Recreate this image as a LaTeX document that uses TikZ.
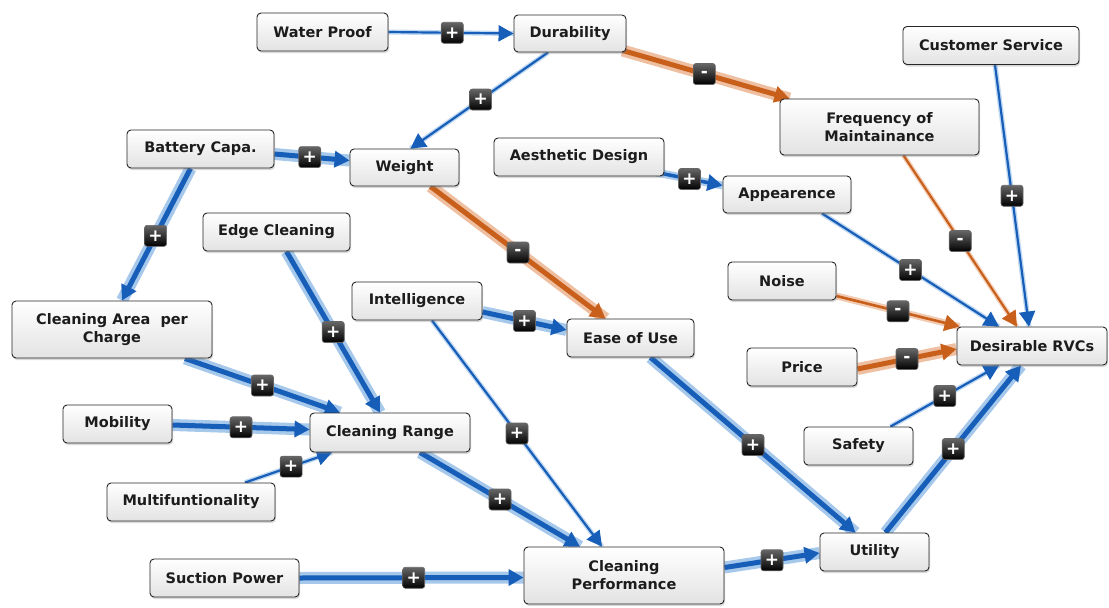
\documentclass[tikz,border=0pt]{standalone}
\usepackage{fontspec}
\setmainfont{DejaVu Sans}
\usetikzlibrary{arrows.meta,shadows,calc,backgrounds}
\definecolor{eblue}{RGB}{22,94,184}
\definecolor{hblue}{RGB}{150,190,232}
\definecolor{eor}{RGB}{200,96,28}
\definecolor{hor}{RGB}{236,180,145}
\definecolor{txt}{RGB}{28,28,28}
\tikzset{
  box/.style={draw=black!85, line width=0.9pt, rounded corners=4pt,
    top color=white, bottom color=black!11,
    drop shadow={shadow xshift=1pt, shadow yshift=-2pt, opacity=0.3},
    font=\fontsize{14.5}{18}\selectfont\bfseries, text=txt, align=center,
    minimum height=38pt, inner sep=2pt},
  lab/.style={draw=black!60, line width=0.6pt, rounded corners=2.5pt,
    top color=black!60, bottom color=black, minimum width=22pt, minimum height=21pt,
    inner sep=0pt, text=white, font=\fontsize{17}{17}\selectfont\bfseries},
  tip/.style={-{Triangle[length=15pt,width=16pt]}},
  thinb/.style={tip, draw=eblue, line width=2.2pt, preaction={draw=hblue, line width=5pt, -, opacity=0.6}},
  medb/.style={tip, draw=eblue, line width=3.5pt, preaction={draw=hblue, line width=8pt, -, opacity=0.8}},
  thickb/.style={tip, draw=eblue, line width=5pt, preaction={draw=hblue, line width=12pt, -, opacity=0.85}},
  thino/.style={tip, draw=eor, line width=2.2pt, preaction={draw=hor, line width=5pt, -, opacity=0.6}},
  medo/.style={tip, draw=eor, line width=2.6pt, preaction={draw=hor, line width=7pt, -, opacity=0.7}},
  thicko/.style={tip, draw=eor, line width=5pt, preaction={draw=hor, line width=12pt, -, opacity=0.85}},
}
\begin{document}
\begin{tikzpicture}[x=1pt,y=-1pt]
\useasboundingbox (0,0) rectangle (1109,608);
\node[box,minimum width=131pt] (wp) at (322.5,32) {Water Proof};
\node[box,minimum width=112pt,minimum height=37pt] (dur) at (570,33.5) {Durability};
\node[box,minimum width=176pt] (cs) at (991,45.5) {Customer Service};
\node[box,minimum width=199pt,minimum height=56pt] (freq) at (879.5,127) {Frequency of\\Maintainance};
\node[box,minimum width=147pt] (bat) at (200.5,149) {Battery Capa.};
\node[box,minimum width=109pt,minimum height=37pt] (wt) at (404.5,167.5) {Weight};
\node[box,minimum width=170pt] (aes) at (579,157) {Aesthetic Design};
\node[box,minimum width=128pt,minimum height=37pt] (app) at (787,194.5) {Appearence};
\node[box,minimum width=147pt] (edge) at (276.5,232) {Edge Cleaning};
\node[box,minimum width=108pt] (noise) at (782,281) {Noise};
\node[box,minimum width=130pt] (int) at (417,301) {Intelligence};
\node[box,minimum width=127pt] (eou) at (630.5,338) {Ease of Use};
\node[box,minimum width=200pt,minimum height=57pt] (cap) at (112,329.5) {Cleaning Area\ \ per\\Charge};
\node[box,minimum width=150pt] (des) at (1032,346) {Desirable RVCs};
\node[box,minimum width=110pt] (price) at (802,367) {Price};
\node[box,minimum width=109pt] (mob) at (117.5,424) {Mobility};
\node[box,minimum width=160pt,minimum height=39pt] (cr) at (390,432.5) {Cleaning Range};
\node[box,minimum width=109pt] (safety) at (858.5,446) {Safety};
\node[box,minimum width=168pt] (multi) at (191,502) {Multifuntionality};
\node[box,minimum width=149pt] (sp) at (224.5,578) {Suction Power};
\node[box,minimum width=200pt,minimum height=57pt] (cp) at (624,575.5) {Cleaning\\Performance};
\node[box,minimum width=109pt] (util) at (874.5,552) {Utility};

\begin{scope}[on background layer]
\draw[thinb] (wp.east) -- node[lab,pos=.51]{+} (dur.west);
\draw[thinb] ($(dur.south)+(-22,0)$) -- node[lab,pos=.49]{+} ($(wt.north)+(6,0)$);
\draw[thicko] ($(dur.south east)+(-4,-2)$) -- node[lab,pos=.49]{-} ($(freq.north west)+(10,0)$);
\draw[thickb] ($(bat.east)+(0,5)$) -- node[lab,pos=.47]{+} ($(wt.west)+(0,-7)$);
\draw[thickb] ($(bat.south)+(-10,0)$) -- node[lab,pos=.51]{+} ($(cap.north)+(10,0)$);
\draw[thicko] ($(wt.south)+(26,0)$) -- node[lab,pos=.5]{-} ($(eou.north)+(-25,0)$);
\draw[medb] ($(aes.south east)+(-8,-4)$) -- node[lab,pos=.5]{+} ($(app.west)+(0,-9)$);
\draw[thinb] ($(app.south)+(35,0)$) -- node[lab,pos=.5]{+} ($(des.north)+(-33,0)$);
\draw[thino] ($(freq.south)+(24,0)$) -- node[lab,pos=.5]{-} ($(des.north)+(-15,0)$);
\draw[thinb] ($(cs.south)+(4,0)$) -- node[lab,pos=.5]{+} ($(des.north)+(-3,0)$);
\draw[medo] ($(noise.east)+(0,15)$) -- node[lab,pos=.5]{-} ($(des.north west)+(3,0)$);
\draw[thicko] ($(price.east)+(0,2)$) -- node[lab,pos=.5]{-} ($(des.west)+(0,3)$);
\draw[thinb] ($(safety.north)+(32,0)$) -- node[lab,pos=.5]{+} ($(des.south)+(-33,0)$);
\draw[thickb] ($(util.north)+(11,0)$) -- node[lab,pos=.5]{+} ($(des.south)+(-11,0)$);
\draw[thickb] ($(edge.south)+(10,0)$) -- node[lab,pos=.5]{+} ($(cr.north)+(-10,0)$);
\draw[thickb] ($(int.east)+(0,11)$) -- node[lab,pos=.5]{+} ($(eou.west)+(0,-8)$);
\draw[thinb] ($(int.south)+(15,0)$) -- node[lab,pos=.5]{+} ($(cp.north)+(-22,0)$);
\draw[thickb] ($(cap.south)+(73,0)$) -- node[lab,pos=.5]{+} ($(cr.north)+(-50,0)$);
\draw[thickb] ($(mob.east)+(0,1)$) -- node[lab,pos=.5]{+} ($(cr.west)+(0,-3)$);
\draw[thinb] ($(multi.north)+(54,0)$) -- node[lab,pos=.53]{+} ($(cr.south)+(-58,0)$);
\draw[thickb] ($(cr.south)+(30,0)$) -- node[lab,pos=.5]{+} ($(cp.north)+(-44,0)$);
\draw[thickb] (sp.east) -- node[lab,pos=.51]{+} ($(cp.west)+(0,2)$);
\draw[thickb] ($(eou.south)+(20,0)$) -- node[lab,pos=.5]{+} ($(util.north)+(-19,0)$);
\draw[thickb] ($(cp.east)+(0,-8)$) -- node[lab,pos=.5]{+} ($(util.west)+(0,1)$);
\end{scope}
\end{tikzpicture}
\end{document}
